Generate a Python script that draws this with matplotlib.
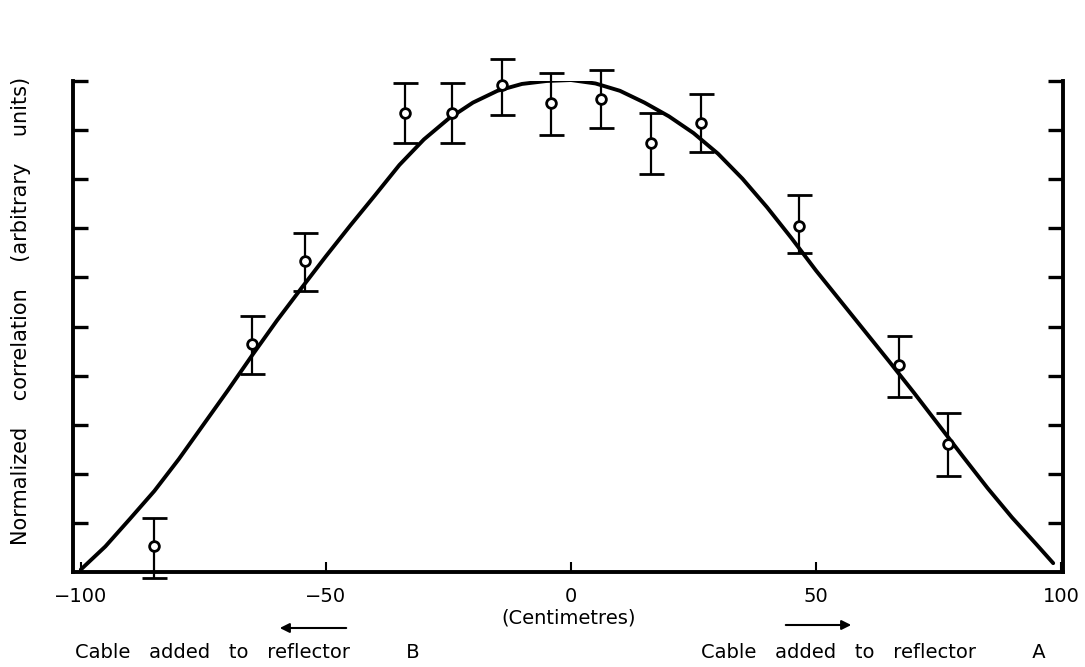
import matplotlib
matplotlib.use('Agg')
import matplotlib.pyplot as plt

plt.rcParams['font.family'] = 'DejaVu Sans'
plt.rcParams.update({'font.size': 14})

# measured points (cm, normalized correlation) with error bars
x_pts = [-85, -65, -54.3, -33.9, -24.3, -14.1, -4.1, 6.1, 16.3, 26.5, 46.5, 66.9, 76.9]
y_pts = [0.052, 0.465, 0.633, 0.935, 0.935, 0.992, 0.955, 0.963, 0.873, 0.914, 0.704, 0.422, 0.261]
err_lo = [0.064, 0.061, 0.060, 0.062, 0.062, 0.061, 0.065, 0.059, 0.063, 0.059, 0.055, 0.065, 0.065]
err_hi = [0.058, 0.057, 0.057, 0.061, 0.061, 0.053, 0.061, 0.059, 0.062, 0.059, 0.063, 0.058, 0.063]

# fitted curve, every 5 cm
x_fit = [-100, -95, -90, -85, -80, -75, -70, -65, -60, -55, -50, -45, -40, -35, -30, -25,
         -20, -15, -10, -5, 0, 5, 10, 15, 20, 25, 30, 35, 40, 45, 50, 55, 60, 65, 70, 75,
         80, 85, 90, 95, 98.4]
y_fit = [0.005, 0.052, 0.108, 0.165, 0.230, 0.300, 0.370, 0.442, 0.512, 0.578, 0.643,
         0.706, 0.767, 0.829, 0.881, 0.923, 0.956, 0.980, 0.994, 1.000, 1.002, 0.995,
         0.980, 0.956, 0.928, 0.894, 0.852, 0.801, 0.743, 0.680, 0.614, 0.552, 0.490,
         0.428, 0.365, 0.300, 0.235, 0.171, 0.111, 0.056, 0.018]

x_ticks = [-100, -50, 0, 50, 100]
x_ticklabels = ['\u2212100', '\u221250', '0', '50', '100']
y_ticks = [0.1, 0.2, 0.3, 0.4, 0.5, 0.6, 0.7, 0.8, 0.9, 1.0]

fig = plt.figure(figsize=(10.85, 6.67), dpi=100)
ax = fig.add_axes([73/1085, 1 - 572/667, (1063-73)/1085, (572-81)/667])

ax.plot(x_fit, y_fit, color='black', lw=2.8, solid_capstyle='round',
        solid_joinstyle='round', zorder=2)
ax.errorbar(x_pts, y_pts, yerr=[err_lo, err_hi], fmt='o', ms=7, mfc='white', mec='black',
            mew=2, ecolor='black', elinewidth=1.6, capsize=9, capthick=2.4,
            clip_on=False, zorder=3)

ax.set_xlim(-101.6, 100.4)
ax.set_ylim(0, 1.0)

ax.spines['top'].set_visible(False)
for s in ['left', 'right', 'bottom']:
    ax.spines[s].set_linewidth(2.8)

ax.set_xticks(x_ticks)
ax.set_xticklabels(x_ticklabels)
ax.tick_params(axis='x', direction='in', length=7, width=1.5, pad=11)
ax.set_yticks(y_ticks)
ax.set_yticklabels([])
ax.tick_params(axis='y', direction='in', length=11, width=2.4, left=True, right=True)

fig.text(21/1085, 1 - 311/667, 'Normalized    correlation    (arbitrary    units)',
         rotation=90, ha='center', va='center', fontsize=15)
fig.text(569/1085, 1 - 618/667, '(Centimetres)', ha='center', va='center', fontsize=14)
fig.text(75/1085, 1 - 652/667, 'Cable   added   to   reflector         B', ha='left',
         va='center', fontsize=14)
fig.text(1046/1085, 1 - 652/667, 'Cable   added   to   reflector         A', ha='right',
         va='center', fontsize=14)

# direction arrows
ax.annotate('', xy=(277/1085, 1 - 628/667), xytext=(349/1085, 1 - 628/667),
            xycoords='figure fraction', textcoords='figure fraction',
            arrowprops=dict(arrowstyle='-|>', color='black', lw=1.5, mutation_scale=14))
ax.annotate('', xy=(854/1085, 1 - 625/667), xytext=(783/1085, 1 - 625/667),
            xycoords='figure fraction', textcoords='figure fraction',
            arrowprops=dict(arrowstyle='-|>', color='black', lw=1.5, mutation_scale=14))

plt.savefig('out.png', dpi=100)
